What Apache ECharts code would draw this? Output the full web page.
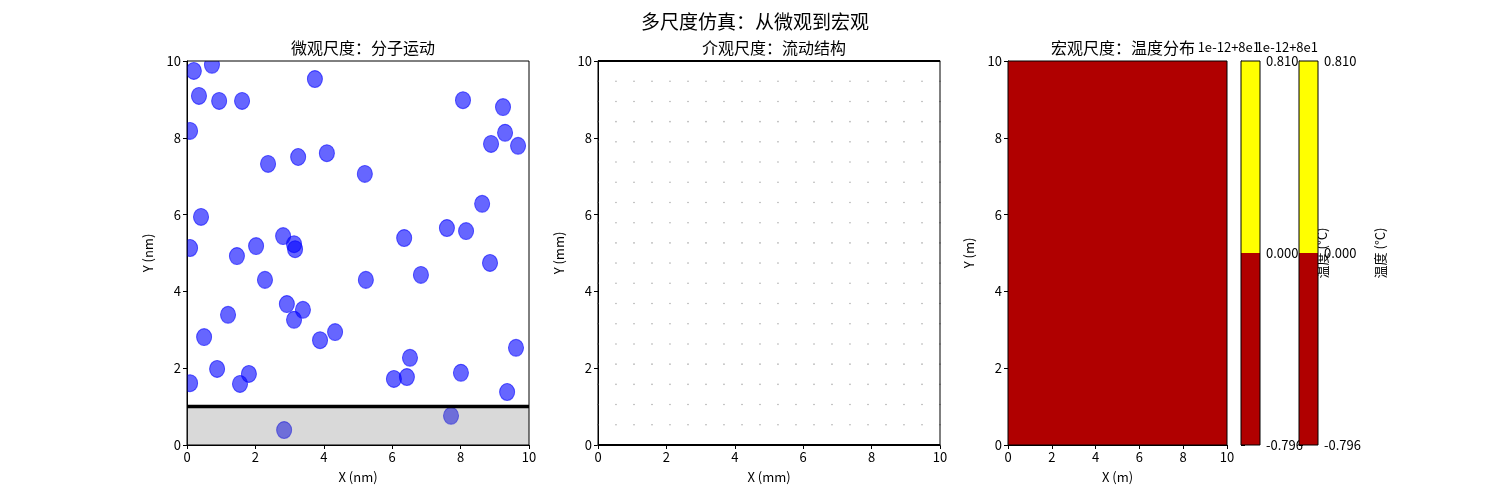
<!DOCTYPE html>
<html>
<head>
<meta charset="utf-8">
<script src="https://cdn.jsdelivr.net/npm/echarts@6/dist/echarts.min.js"></script>
<style>html,body{margin:0;padding:0;background:#fff}#c{width:1500px;height:500px}</style>
</head>
<body>
<div id="c"></div>
<script>
// ---------- data ----------
const axisTicks = [0, 2, 4, 6, 8, 10];
// molecules (micro scale), nm
const molX = [0.20,0.73,0.35,0.94,1.61,3.74,8.07,9.24,0.09,9.30,8.89,9.68,2.37,3.25,4.09,5.20,8.63,0.41,7.60,8.16,2.81,3.13,3.16,0.09,2.02,6.35,1.46,5.23,6.84,2.28,8.86,2.92,3.39,1.20,3.13,4.33,3.89,0.50,9.62,6.52,0.88,1.81,8.01,1.55,6.05,6.43,0.09,9.36,7.72,2.84];
const molY = [9.74,9.90,9.09,8.96,8.96,9.53,8.98,8.80,8.18,8.13,7.84,7.79,7.32,7.50,7.60,7.06,6.28,5.94,5.65,5.57,5.44,5.23,5.10,5.13,5.18,5.39,4.92,4.30,4.43,4.30,4.74,3.67,3.52,3.39,3.26,2.94,2.73,2.81,2.53,2.27,1.98,1.85,1.88,1.59,1.72,1.77,1.61,1.38,0.76,0.39];
const molRadius = 0.22;
const substrateTop = 1.0;
// meso scale grid points (mm)
const mesoGridX = [0,0.526,1.053,1.579,2.105,2.632,3.158,3.684,4.211,4.737,5.263,5.789,6.316,6.842,7.368,7.895,8.421,8.947,9.474,10];
const mesoGridY = [0,0.526,1.053,1.579,2.105,2.632,3.158,3.684,4.211,4.737,5.263,5.789,6.316,6.842,7.368,7.895,8.421,8.947,9.474,10];
const mesoBounds = [0, 10];
// macro scale temperature field extent (m)
const macroExtentX = [0, 10];
const macroExtentY = [0, 10];
// colorbar levels (offset 1e-12 + 8e1)
const cbTickLabels = ['-0.796', '0.000', '0.810'];
const cbLevelColors = ['#b00000', '#ffff00'];
const cbOffsetText = '1e-12+8e1';
const cbLabel = '温度 (°C)';

// ---------- chart ----------
const FONT = '"Noto Sans CJK SC", "DejaVu Sans", sans-serif';
const chart = echarts.init(document.getElementById('c'), null, {renderer: 'canvas'});

const T = 61, H = 384;
const grids = [
  {left: 187, top: T, width: 342, height: H},
  {left: 598, top: T, width: 342, height: H},
  {left: 1008, top: T, width: 219, height: H},
  {left: 1241, top: T, width: 19, height: H},
  {left: 1299, top: T, width: 19, height: H}
].map(g => Object.assign(g, {show: true, z: 5, borderColor: '#000', borderWidth: 1, backgroundColor: 'transparent'}));

function valAxis(gi, name, isY) {
  return {
    type: 'value', gridIndex: gi, min: 0, max: 10, interval: 2,
    name: name, nameLocation: 'middle', nameGap: isY ? 32 : 26,
    nameTextStyle: {fontFamily: FONT, fontSize: 13, color: '#000'},
    axisLine: {show: true, onZero: false, lineStyle: {color: '#000', width: 1}},
    axisTick: {show: true, length: 4, lineStyle: {color: '#000'}},
    axisLabel: {fontFamily: FONT, fontSize: 13, color: '#000', margin: 6},
    splitLine: {show: false}
  };
}

const xAxes = [
  valAxis(0, 'X (nm)', false),
  valAxis(1, 'X (mm)', false),
  valAxis(2, 'X (m)', false),
  {type: 'value', gridIndex: 3, min: 0, max: 1, show: false},
  {type: 'value', gridIndex: 4, min: 0, max: 1, show: false}
];
function cbAxis(gi) {
  return {
    type: 'value', gridIndex: gi, min: 0, max: 2, interval: 1, position: 'right',
    axisLine: {show: true, lineStyle: {color: '#000'}},
    axisTick: {show: true, length: 4, lineStyle: {color: '#000'}},
    axisLabel: {fontFamily: FONT, fontSize: 13, color: '#000', margin: 6,
      formatter: v => cbTickLabels[Math.round(v)]},
    splitLine: {show: false}
  };
}
const yAxes = [
  valAxis(0, 'Y (nm)', true),
  valAxis(1, 'Y (mm)', true),
  valAxis(2, 'Y (m)', true),
  cbAxis(3),
  cbAxis(4)
];

const molData = molX.map((x, i) => [x, molY[i]]);
const mesoData = [];
mesoGridY.forEach(y => mesoGridX.forEach(x => mesoData.push([x, y])));

const cbData = cbLevelColors.map((c, i) => [i, i + 1, c]);

function cbSeries(gi) {
  return {
    type: 'custom', xAxisIndex: gi, yAxisIndex: gi, data: cbData, silent: true, z: 1,
    renderItem: (params, api) => {
      const p0 = api.coord([0, api.value(0)]);
      const p1 = api.coord([1, api.value(1)]);
      return {type: 'rect', shape: {x: p0[0], y: p1[1], width: p1[0] - p0[0], height: p0[1] - p1[1]},
        style: {fill: cbLevelColors[params.dataIndex]}};
    }
  };
}

const option = {
  animation: false,
  backgroundColor: '#fff',
  title: [
    {text: '多尺度仿真：从微观到宏观', left: 750, top: 7, textAlign: 'center',
      textStyle: {fontFamily: FONT, fontSize: 19, fontWeight: 'normal', color: '#000'}},
    {text: '微观尺度：分子运动', left: 358, top: 35, textAlign: 'center',
      textStyle: {fontFamily: FONT, fontSize: 16, fontWeight: 'normal', color: '#000'}},
    {text: '介观尺度：流动结构', left: 769, top: 35, textAlign: 'center',
      textStyle: {fontFamily: FONT, fontSize: 16, fontWeight: 'normal', color: '#000'}},
    {text: '宏观尺度：温度分布', left: 1118, top: 35, textAlign: 'center',
      textStyle: {fontFamily: FONT, fontSize: 16, fontWeight: 'normal', color: '#000'}}
  ],
  grid: grids,
  xAxis: xAxes,
  yAxis: yAxes,
  graphic: [
    {type: 'text', x: 1260, y: 54, style: {text: cbOffsetText, align: 'right', verticalAlign: 'bottom', font: '13px ' + FONT, fill: '#000'}},
    {type: 'text', x: 1318, y: 54, style: {text: cbOffsetText, align: 'right', verticalAlign: 'bottom', font: '13px ' + FONT, fill: '#000'}},
    {type: 'text', x: 1322, y: 253, rotation: Math.PI / 2, style: {text: cbLabel, align: 'center', verticalAlign: 'middle', font: '13px ' + FONT, fill: '#000'}},
    {type: 'text', x: 1380, y: 253, rotation: Math.PI / 2, style: {text: cbLabel, align: 'center', verticalAlign: 'middle', font: '13px ' + FONT, fill: '#000'}}
  ],
  series: [
    // molecules
    {
      type: 'custom', xAxisIndex: 0, yAxisIndex: 0, data: molData, clip: true, z: 2, silent: true,
      renderItem: (params, api) => {
        const p = api.coord([api.value(0), api.value(1)]);
        const s = api.size([molRadius, molRadius]);
        return {type: 'circle', x: p[0], y: p[1], scaleY: s[1] / s[0],
          shape: {cx: 0, cy: 0, r: s[0]},
          style: {fill: 'rgba(0,0,255,0.6)', stroke: 'rgba(0,0,255,0.6)', lineWidth: 1}};
      }
    },
    // substrate
    {
      type: 'custom', xAxisIndex: 0, yAxisIndex: 0, data: [[0, substrateTop]], clip: true, z: 3, silent: true,
      renderItem: (params, api) => {
        const p0 = api.coord([0, 0]);
        const p1 = api.coord([10, api.value(1)]);
        return {type: 'rect', shape: {x: p0[0], y: p1[1], width: p1[0] - p0[0], height: p0[1] - p1[1]},
          style: {fill: 'rgba(128,128,128,0.3)'}};
      }
    },
    {
      type: 'line', xAxisIndex: 0, yAxisIndex: 0, data: [[0, substrateTop], [10, substrateTop]],
      symbol: 'none', z: 4, lineStyle: {color: '#000', width: 3.5}, silent: true
    },
    // meso grid
    {
      type: 'scatter', xAxisIndex: 1, yAxisIndex: 1, data: mesoData, symbolSize: 1.6,
      itemStyle: {color: '#999'}, silent: true
    },
    {
      type: 'line', xAxisIndex: 1, yAxisIndex: 1, data: [[0, mesoBounds[0]], [10, mesoBounds[0]]],
      symbol: 'none', z: 6, lineStyle: {color: '#000', width: 2}, silent: true
    },
    {
      type: 'line', xAxisIndex: 1, yAxisIndex: 1, data: [[0, mesoBounds[1]], [10, mesoBounds[1]]],
      symbol: 'none', z: 6, lineStyle: {color: '#000', width: 2}, silent: true
    },
    // macro field
    {
      type: 'custom', xAxisIndex: 2, yAxisIndex: 2, data: [[macroExtentX[0], macroExtentY[0], macroExtentX[1], macroExtentY[1]]], silent: true, z: 1,
      renderItem: (params, api) => {
        const p0 = api.coord([api.value(0), api.value(1)]);
        const p1 = api.coord([api.value(2), api.value(3)]);
        return {type: 'rect', shape: {x: p0[0], y: p1[1], width: p1[0] - p0[0], height: p0[1] - p1[1]},
          style: {fill: cbLevelColors[0]}};
      }
    },
    cbSeries(3),
    cbSeries(4)
  ]
};
chart.setOption(option);
</script>
</body>
</html>
